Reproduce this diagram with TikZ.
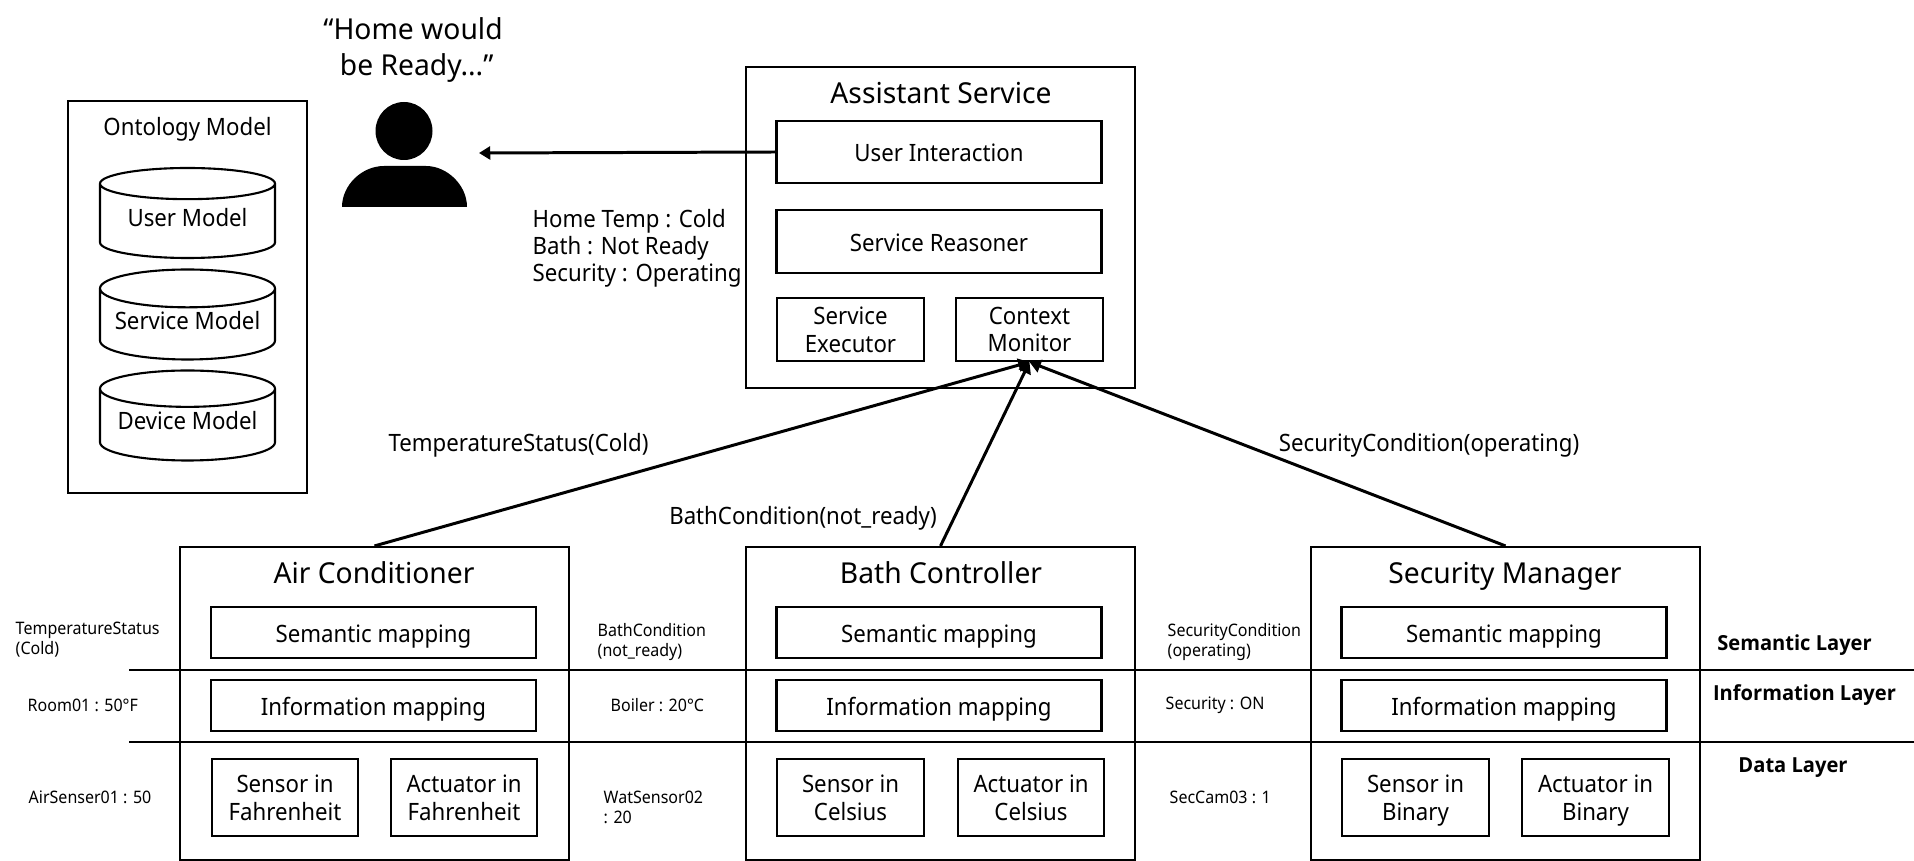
\documentclass[tikz,border=0pt]{standalone}
\usepackage{fontspec}
\setmainfont[FakeStretch=0.93]{Noto Sans}
\newfontfamily\titlefont[FakeStretch=0.98]{Noto Sans}
\newfontfamily\layerfont[FakeStretch=0.97]{Open Sans}
\usetikzlibrary{shapes.geometric, arrows.meta}

\begin{document}
\begin{tikzpicture}[
    every node/.style={font=\fontsize{6.8}{7.8}\selectfont, inner sep=0pt},
    panel/.style={rectangle, draw, line width=0.6pt},
    oneLine/.style={text height=5.6pt, text depth=0pt},
    wideBox/.style={panel, oneLine, minimum width=3.25cm, minimum height=0.51cm},
    tallBox/.style={wideBox, minimum height=0.625cm},
    halfBox/.style={panel, minimum width=1.465cm, minimum height=0.77cm, align=center, text depth=0pt},
    smallBox/.style={panel, minimum width=1.465cm, minimum height=0.63cm, align=center, text depth=0pt},
    model/.style={cylinder, draw, line width=0.6pt, shape border rotate=90, aspect=0.26, minimum width=1.75cm, minimum height=0.90cm, anchor=shape center, text depth=2.4pt},
    title/.style={font=\titlefont\fontsize{8.2}{10}\selectfont, align=center},
    panelTitle/.style={title, text height=6pt, text depth=0pt},
    note/.style={anchor=west, align=left, text depth=0pt},
    smallNote/.style={anchor=west, align=left, font=\fontsize{4.9}{5.7}\selectfont},
    layer/.style={text height=4.4pt, text depth=0pt, font=\layerfont\fontsize{5.9}{7}\selectfont\bfseries},
    arrow/.style={-{Triangle[length=3.2pt, width=3.7pt]}, line width=0.85pt},
    divider/.style={line width=0.6pt}
]
    \useasboundingbox (0, 0) rectangle (19.14, -8.61);

% -------------------------
% Layer dividers
% -------------------------
    \coordinate (d1_l) at (1.29, -6.70);
    \coordinate (d1_r) at (19.14, -6.70);
    \coordinate (d2_l) at (1.29, -7.42);
    \coordinate (d2_r) at (19.14, -7.42);
    \draw[divider] (d1_l) -- (d1_r);
    \draw[divider] (d2_l) -- (d2_r);

% -------------------------
% User
% -------------------------
    \node[title, text depth=0pt] (quote) at (4.13, -0.466) {“Home would\\\ be Ready...”};
    \node[ellipse, fill=black, minimum width=0.57cm, minimum height=0.58cm] (head) at (4.04, -1.31) {};
    \fill (3.42, -2.07) .. controls (3.42, -1.85) and (3.62, -1.66) .. (3.84, -1.66) -- (4.26, -1.66)
        .. controls (4.47, -1.66) and (4.67, -1.85) .. (4.67, -2.07) -- cycle;
    \coordinate (userTip) at (4.79, -1.53);

% -------------------------
% Ontology Model
% -------------------------
    \node[panel, minimum width=2.39cm, minimum height=3.92cm] (onto) at (1.875, -2.97) {};
    \node[oneLine] (ontoTitle) at (1.875, -1.256) {Ontology Model};
    \node[model] (m1) at (1.875, -2.13) {User Model};
    \node[model] (m2) at (1.875, -3.145) {Service Model};
    \node[model] (m3) at (1.875, -4.155) {Device Model};

% -------------------------
% Assistant Service
% -------------------------
    \node[panel, minimum width=3.89cm, minimum height=3.21cm] (as) at (9.405, -2.275) {};
    \node[panelTitle] (asTitle) at (9.41, -0.93) {Assistant Service};
    \node[tallBox] (ui) at (9.39, -1.52) {User Interaction};
    \node[tallBox] (sr) at (9.39, -2.415) {Service Reasoner};
    \node[smallBox] (se) at (8.505, -3.295) {Service\\Executor};
    \node[smallBox] (cm) at (10.295, -3.295) {Context\\Monitor};
    \node[note] (status) at (5.32, -2.455) {Home Temp : Cold\\Bath : Not Ready\\Security : Operating};

% -------------------------
% Air Conditioner
% -------------------------
    \node[panel, minimum width=3.89cm, minimum height=3.13cm] (air) at (3.745, -7.035) {};
    \node[panelTitle] (airTitle) at (3.74, -5.73) {Air Conditioner};
    \node[wideBox] (air_1) at (3.735, -6.325) {Semantic mapping};
    \node[wideBox] (air_2) at (3.735, -7.055) {Information mapping};
    \node[halfBox] (air_3) at (2.85, -7.975) {Sensor in\\Fahrenheit};
    \node[halfBox] (air_4) at (4.64, -7.975) {Actuator in\\Fahrenheit};

% -------------------------
% Bath Controller
% -------------------------
    \node[panel, minimum width=3.89cm, minimum height=3.13cm] (bath) at (9.405, -7.035) {};
    \node[panelTitle] (bathTitle) at (9.41, -5.73) {Bath Controller};
    \node[wideBox] (bath_1) at (9.39, -6.325) {Semantic mapping};
    \node[wideBox] (bath_2) at (9.39, -7.055) {Information mapping};
    \node[halfBox] (bath_3) at (8.505, -7.975) {Sensor in\\Celsius};
    \node[halfBox] (bath_4) at (10.31, -7.975) {Actuator in\\Celsius};

% -------------------------
% Security Manager
% -------------------------
    \node[panel, minimum width=3.89cm, minimum height=3.13cm] (sec) at (15.055, -7.035) {};
    \node[panelTitle] (secTitle) at (15.05, -5.73) {Security Manager};
    \node[wideBox] (sec_1) at (15.04, -6.325) {Semantic mapping};
    \node[wideBox] (sec_2) at (15.04, -7.055) {Information mapping};
    \node[halfBox] (sec_3) at (14.155, -7.975) {Sensor in\\Binary};
    \node[halfBox] (sec_4) at (15.955, -7.975) {Actuator in\\Binary};

% -------------------------
% Side labels
% -------------------------
    \node[smallNote] (l1_1) at (0.15, -6.40) {TemperatureStatus\\(Cold)};
    \node[smallNote] (l1_2) at (0.27, -7.05) {Room01 : 50°F};
    \node[smallNote] (l1_3) at (0.28, -7.97) {AirSenser01 : 50};
    \node[smallNote] (l2_1) at (5.97, -6.42) {BathCondition\\(not\_ready)};
    \node[smallNote] (l2_2) at (6.10, -7.05) {Boiler : 20°C};
    \node[smallNote] (l2_3) at (6.03, -8.07) {WatSensor02\\: 20};
    \node[smallNote] (l3_1) at (11.67, -6.42) {SecurityCondition\\(operating)};
    \node[smallNote] (l3_2) at (11.65, -7.05) {Security : ON};
    \node[smallNote] (l3_3) at (11.69, -7.97) {SecCam03 : 1};
    \node[layer] (sem) at (17.945, -6.43) {Semantic Layer};
    \node[layer] (inf) at (18.045, -6.93) {Information Layer};
    \node[layer] (dat) at (17.93, -7.65) {Data Layer};

% -------------------------
% Arrows
% -------------------------
    \draw[arrow] (ui.west) -- (userTip);
    \draw[arrow] (air.north) -- (cm.south);
    \draw[arrow] (bath.north) -- (cm.south);
    \draw[arrow] (sec.north) -- (cm.south);
    \node[oneLine] (t1) at (5.185, -4.414) {TemperatureStatus(Cold)};
    \node[oneLine] (t2) at (8.03, -5.144) {BathCondition(not\_ready)};
    \node[oneLine] (t3) at (14.29, -4.414) {SecurityCondition(operating)};
\end{tikzpicture}
\end{document}
